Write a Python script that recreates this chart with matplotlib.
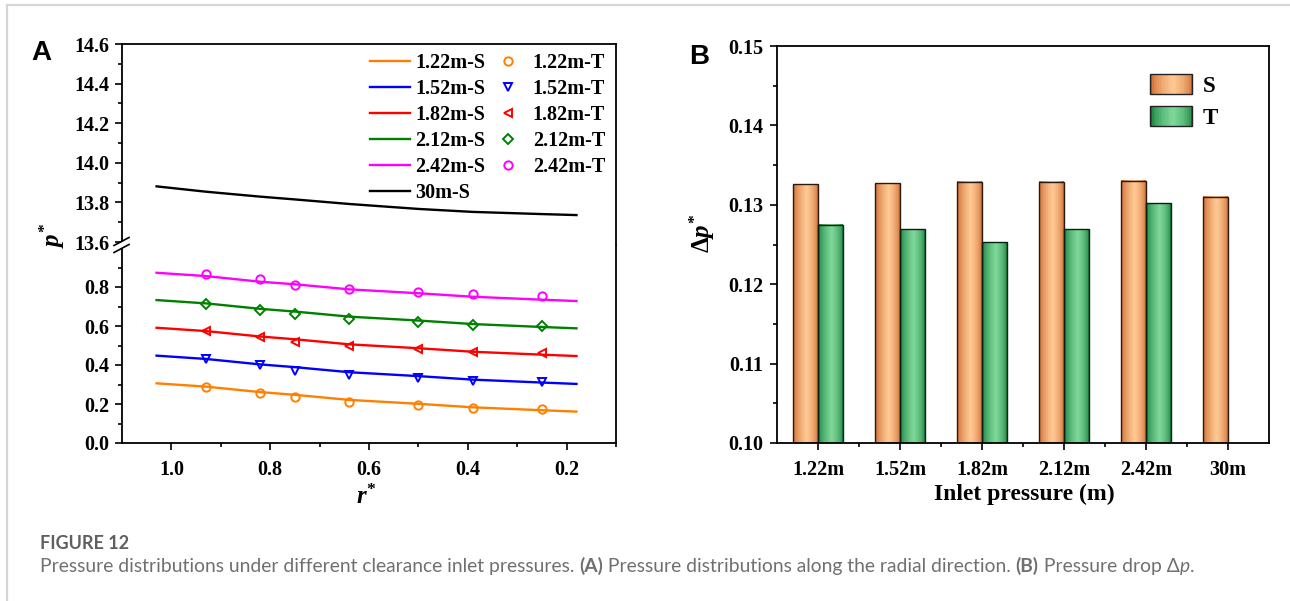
import matplotlib
matplotlib.use('Agg')
import matplotlib.pyplot as plt
import numpy as np
from matplotlib.legend_handler import HandlerBase
from matplotlib.lines import Line2D
from matplotlib.patches import Rectangle, Polygon

plt.rcParams['font.family'] = 'Liberation Serif'
plt.rcParams['font.weight'] = 'bold'
plt.rcParams['mathtext.fontset'] = 'custom'
plt.rcParams['mathtext.it'] = 'Liberation Serif:italic:bold'
plt.rcParams['mathtext.rm'] = 'Liberation Serif:bold'
plt.rcParams['mathtext.bf'] = 'Liberation Serif:bold'

# ---- panel A data ----
r_line = [1.03, 0.93, 0.82, 0.75, 0.64, 0.50, 0.39, 0.25, 0.18]
s_122 = [0.306, 0.289, 0.261, 0.247, 0.221, 0.201, 0.183, 0.168, 0.161]
s_152 = [0.448, 0.431, 0.403, 0.389, 0.363, 0.343, 0.325, 0.310, 0.303]
s_182 = [0.591, 0.574, 0.546, 0.532, 0.506, 0.486, 0.468, 0.453, 0.446]
s_212 = [0.733, 0.716, 0.688, 0.674, 0.648, 0.628, 0.610, 0.595, 0.588]
s_242 = [0.873, 0.856, 0.827, 0.814, 0.788, 0.768, 0.750, 0.735, 0.728]
s_30 = [13.881, 13.854, 13.829, 13.815, 13.792, 13.767, 13.752, 13.741, 13.736]

r_pts = [0.93, 0.82, 0.75, 0.64, 0.50, 0.39, 0.25]
t_122 = [0.289, 0.258, 0.234, 0.210, 0.193, 0.181, 0.174]
t_152 = [0.429, 0.400, 0.371, 0.350, 0.335, 0.320, 0.314]
t_182 = [0.573, 0.542, 0.516, 0.496, 0.480, 0.465, 0.460]
t_212 = [0.713, 0.682, 0.660, 0.636, 0.619, 0.607, 0.600]
t_242 = [0.867, 0.839, 0.812, 0.791, 0.773, 0.763, 0.755]

series_names = ['1.22m', '1.52m', '1.82m', '2.12m', '2.42m']
series_colors = ['#FF8000', '#0000FF', '#FF0000', '#008000', '#FF00FF']
series_markers = ['o', 'v', '<', 'D', 'o']

# ---- panel B data ----
inlet_labels = ['1.22m', '1.52m', '1.82m', '2.12m', '2.42m', '30m']
dp_s = [0.1326, 0.1327, 0.1329, 0.1329, 0.1330, 0.1310]
dp_t = [0.1275, 0.1269, 0.1253, 0.1269, 0.1302]

W, H = 1290, 601
fig = plt.figure(figsize=(W / 100, H / 100), dpi=100)


def fx(px):
    return px / W


def fy(py):
    return 1 - py / H


def ax_rect(l, r, t, b):
    return [fx(l), fy(b), (r - l) / W, (b - t) / H]


tick_fs = 14.5

# ---- panel A: broken y axis ----
ax_hi = fig.add_axes(ax_rect(122, 616, 44, 245))
ax_lo = fig.add_axes(ax_rect(122, 616, 245, 443))

ax_hi.set_ylim(13.6 - 3 / 198, 14.6)
ax_lo.set_ylim(0, 1.0 + 3 / 195)
for a in (ax_hi, ax_lo):
    a.set_xlim(1.1, 0.1)
    for sp in a.spines.values():
        sp.set_linewidth(1.3)
    a.tick_params(which='both', direction='out', right=False, top=False,
                  labelsize=tick_fs, width=1.2)
    a.tick_params(which='major', length=5, pad=4)
    a.tick_params(which='minor', length=3)
ax_hi.spines['bottom'].set_visible(False)
ax_lo.spines['top'].set_visible(False)
ax_hi.tick_params(which='both', bottom=False, labelbottom=False)
ax_hi.set_yticks(np.arange(13.6, 14.61, 0.2))
ax_hi.set_yticks(np.arange(13.7, 14.6, 0.2), minor=True)
ax_hi.set_yticklabels([f'{v:.1f}' for v in np.arange(13.6, 14.61, 0.2)])
ax_lo.set_yticks(np.arange(0, 0.81, 0.2))
ax_lo.set_yticks(np.arange(0.1, 0.95, 0.2), minor=True)
ax_lo.set_yticklabels([f'{v:.1f}' for v in np.arange(0, 0.81, 0.2)])
ax_lo.set_xticks([1.0, 0.8, 0.6, 0.4, 0.2])
ax_lo.set_xticks([0.9, 0.7, 0.5, 0.3, 0.1], minor=True)
ax_lo.set_xticklabels(['1.0', '0.8', '0.6', '0.4', '0.2'])
ax_lo.tick_params(axis='x', pad=7)

s_all = [s_122, s_152, s_182, s_212, s_242]
t_all = [t_122, t_152, t_182, t_212, t_242]
line_handles, mark_handles = [], []
for name, col, mk, s, t in zip(series_names, series_colors, series_markers, s_all, t_all):
    ln, = ax_lo.plot(r_line, s, color=col, lw=1.7, label=name + '-S')
    ms = 5 if mk == 'D' else 6
    pt, = ax_lo.plot(r_pts, t, ls='none', marker=mk, ms=ms, mfc='none',
                     mec=col, mew=1.4, label=name + '-T')
    line_handles.append(ln)
    mark_handles.append(pt)
ln30, = ax_hi.plot(r_line, s_30, color='black', lw=1.7, label='30m-S')
line_handles.append(ln30)

handles = line_handles + mark_handles
leg = ax_hi.legend(handles, [h.get_label() for h in handles], ncol=2,
                   loc='upper right', bbox_to_anchor=(fx(605), fy(53)),
                   bbox_transform=fig.transFigure, frameon=False,
                   fontsize=tick_fs, handlelength=2.0, handletextpad=0.25,
                   columnspacing=0.1, labelspacing=0.3, borderpad=0,
                   borderaxespad=0)

# break marks on the left spine
fig.add_artist(Polygon([[fx(114), fy(246)], [fx(129), fy(238)],
                        [fx(129), fy(244)], [fx(114), fy(252)]],
                       closed=True, facecolor='white', edgecolor='none',
                       transform=fig.transFigure, zorder=5))
for dy in (-3.5, 3.5):
    fig.add_artist(Line2D([fx(114), fx(129)], [fy(249 + dy), fy(241 + dy)],
                          color='black', lw=1.2, zorder=6))

fig.text(fx(52), fy(235), r'$p^{*}$', rotation=90, ha='center', va='center',
         fontsize=18)
fig.text(fx(366), fy(497), r'$r^{*}$', ha='center', va='center', fontsize=18)
fig.text(fx(41), fy(53), 'A', family='Liberation Sans', fontweight='bold',
         fontsize=20, ha='center', va='center')

# ---- panel B: gradient bars ----
axb = fig.add_axes(ax_rect(777, 1269, 46, 443))
s_dark, s_light = np.array([0.78, 0.36, 0.13]), np.array([1.0, 0.79, 0.58])
t_dark, t_light = np.array([0.03, 0.45, 0.20]), np.array([0.50, 0.85, 0.60])


def gradient(dark, light, n=64):
    t = np.linspace(0, 1, n)
    w = np.where(t < 0.55, (t / 0.55) ** 0.55, ((1 - t) / 0.45) ** 0.45)
    return dark + (light - dark) * w[:, None]


bar_w = 0.3
x = np.arange(len(inlet_labels))
for i, v in enumerate(dp_s):
    x0 = x[i] - bar_w
    axb.imshow(gradient(s_dark, s_light)[None, :, :], extent=[x0, x0 + bar_w, 0.10, v],
               aspect='auto', interpolation='bilinear', zorder=1)
    axb.bar(x0, v - 0.10, bottom=0.10, width=bar_w, align='edge', fill=False,
            edgecolor='#2a1a10', lw=1.0, zorder=2)
for i, v in enumerate(dp_t):
    x0 = x[i]
    axb.imshow(gradient(t_dark, t_light)[None, :, :], extent=[x0, x0 + bar_w, 0.10, v],
               aspect='auto', interpolation='bilinear', zorder=1)
    axb.bar(x0, v - 0.10, bottom=0.10, width=bar_w, align='edge', fill=False,
            edgecolor='#0a2010', lw=1.0, zorder=2)

axb.set_xlim(-0.5, len(inlet_labels) - 0.5)
axb.set_ylim(0.10, 0.15)
axb.set_xticks(x)
axb.set_xticklabels(inlet_labels)
axb.set_xticks(x[:-1] + 0.5, minor=True)
axb.set_yticks(np.arange(0.10, 0.151, 0.01))
axb.set_yticklabels([f'{v:.2f}' for v in np.arange(0.10, 0.151, 0.01)])
axb.set_yticks(np.arange(0.105, 0.15, 0.01), minor=True)
for sp in axb.spines.values():
    sp.set_linewidth(1.3)
axb.tick_params(which='both', direction='out', right=False, top=False,
                labelsize=tick_fs, width=1.2)
axb.tick_params(which='major', length=5, pad=5)
axb.tick_params(which='minor', length=3)
axb.tick_params(axis='x', pad=7)


class GradHandler(HandlerBase):
    def __init__(self, dark, light):
        super().__init__()
        self.cols = gradient(dark, light, 24)

    def create_artists(self, legend, orig_handle, xdescent, ydescent, width,
                       height, fontsize, trans):
        arts = []
        n = len(self.cols)
        for i, c in enumerate(self.cols):
            arts.append(Rectangle((-xdescent + i * width / n, -ydescent), width / n,
                                  height, facecolor=c, edgecolor='none',
                                  transform=trans))
        arts.append(Rectangle((-xdescent, -ydescent), width, height, fill=False,
                              edgecolor='#222222', lw=1.0, transform=trans))
        return arts


proxy_s = Rectangle((0, 0), 1, 1)
proxy_t = Rectangle((0, 0), 1, 1)
axb.legend([proxy_s, proxy_t], ['S', 'T'], loc='upper left',
           bbox_to_anchor=(fx(1150), fy(74)), bbox_transform=fig.transFigure,
           frameon=False, fontsize=16.5, handlelength=1.85, handleheight=0.95,
           handletextpad=0.45, labelspacing=0.4, borderpad=0, borderaxespad=0,
           handler_map={proxy_s: GradHandler(s_dark, s_light),
                        proxy_t: GradHandler(t_dark, t_light)})

fig.text(fx(702), fy(233), r'$\Delta p^{*}$', rotation=90, ha='center',
         va='center', fontsize=18)
fig.text(fx(1024), fy(494), 'Inlet pressure (m)', ha='center', va='center',
         fontsize=17, fontweight='bold')
fig.text(fx(699), fy(57), 'B', family='Liberation Sans', fontweight='bold',
         fontsize=20, ha='center', va='center')

# ---- screenshot frame and caption ----
fig.add_artist(Line2D([fx(7), 1], [fy(5), fy(5)], color='#d6d6d6', lw=1.6))
fig.add_artist(Line2D([fx(7), fx(7)], [fy(5), 0], color='#d6d6d6', lw=1.6))

cap_font = 'Lato'
fig.text(fx(40), fy(549), 'FIGURE 12', family=cap_font, fontweight='bold',
         fontsize=13, color='#5f5f5f', va='baseline')

renderer = fig.canvas.get_renderer()
pieces = [
    ('Pressure distributions under different clearance inlet pressures. ', 'normal', 'normal'),
    ('(A)', 'bold', 'normal'),
    (' Pressure distributions along the radial direction. ', 'normal', 'normal'),
    ('(B)', 'bold', 'normal'),
    (' Pressure drop \u0394', 'normal', 'normal'),
    ('p', 'normal', 'italic'),
    ('.', 'normal', 'normal'),
]
cx = 40
for txt, wt, st in pieces:
    t = fig.text(fx(cx), fy(572), txt, family=cap_font, fontweight=wt,
                 fontstyle=st, fontsize=13.9, color='#707070', va='baseline')
    bb = t.get_window_extent(renderer)
    cx = bb.x1

fig.savefig('out.png', dpi=100)
